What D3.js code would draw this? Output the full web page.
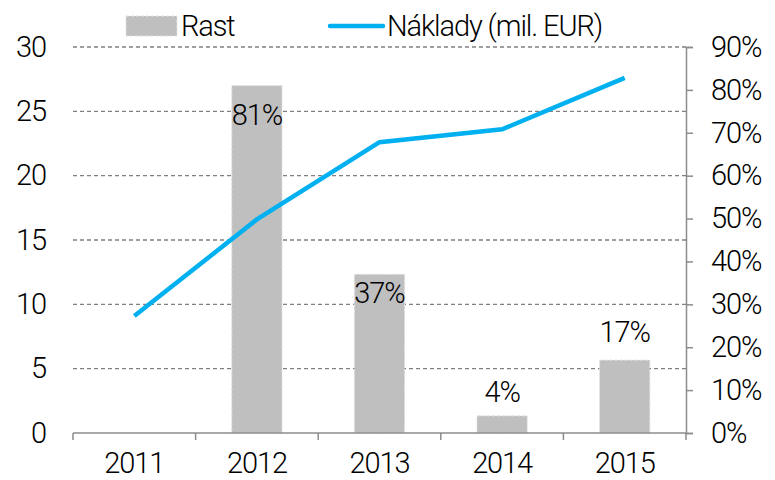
<!DOCTYPE html>
<html>
<head>
<meta charset="utf-8">
<script src="https://cdn.jsdelivr.net/npm/d3@7"></script>
<style>
    body { margin: 0; background: #fff; }
    text { font-family: Roboto, "Liberation Sans", sans-serif; font-weight: 300; letter-spacing: -1.1px; fill: #000; }
</style>
</head>
<body>
<div id="chart"></div>
<script>
// data
let years = ["2011", "2012", "2013", "2014", "2015"];
let naklady = [9.1, 16.6, 22.6, 23.6, 27.6];      // mil. EUR, left axis
let rast = [null, 0.81, 0.37, 0.04, 0.17];         // growth, right axis
let leftTicks = [0, 5, 10, 15, 20, 25, 30];
let rightTicks = [0, 0.1, 0.2, 0.3, 0.4, 0.5, 0.6, 0.7, 0.8, 0.9];
let labelShift = [0, 29, 19, -24, -28];

let fontSize = "29px";

drawChart();

function drawChart() {
    let width = 775, height = 480;
    let margin = {top: 47, right: 89, bottom: 47, left: 73};
    let w = width - margin.left - margin.right;
    let h = height - margin.top - margin.bottom;

    let svg = d3.select("#chart").append("svg")
        .attr("width", width)
        .attr("height", height);

    let g = svg.append("g")
        .attr("transform", "translate(" + margin.left + "," + margin.top + ")");

    let x = d3.scaleBand().domain(years).range([0, w]).paddingInner(0.59).paddingOuter(0.295);
    let x0 = d3.scaleBand().domain(years).range([0, w]);
    let yL = d3.scaleLinear().domain([0, 30]).range([h, 0]);
    let yR = d3.scaleLinear().domain([0, 0.9]).range([h, 0]);

    // grid lines
    g.selectAll(".grid")
        .data(leftTicks.filter(d => d > 0))
        .enter().append("line")
        .attr("x1", 0).attr("x2", w)
        .attr("y1", d => yL(d)).attr("y2", d => yL(d))
        .attr("stroke", "#808080")
        .attr("stroke-width", 1.4)
        .attr("stroke-dasharray", "4,3");

    // bars
    g.selectAll(".bar")
        .data(years.map((d, i) => ({year: d, v: rast[i], i: i})).filter(d => d.v !== null))
        .enter().append("rect")
        .attr("x", d => x(d.year))
        .attr("width", x.bandwidth())
        .attr("y", d => yR(d.v))
        .attr("height", d => h - yR(d.v))
        .attr("fill", "#bfbfbf")
        .attr("stroke", "#e3e3e3")
        .attr("stroke-dasharray", "3,2");

    // left axis labels
    let left = g.append("g").call(d3.axisLeft(yL).tickValues(leftTicks).tickSize(0).tickPadding(27));
    left.select(".domain").remove();
    left.selectAll("text").style("font-size", fontSize);

    // right axis
    let right = g.append("g")
        .attr("transform", "translate(" + w + ",0)")
        .call(d3.axisRight(yR).tickValues(rightTicks).tickSize(7).tickPadding(18).tickFormat(d3.format(".0%")));
    right.select(".domain").attr("stroke", "#8c8c8c").attr("stroke-width", 1.5);
    right.selectAll("line").attr("stroke", "#8c8c8c").attr("stroke-width", 1.5);
    right.selectAll("text").style("font-size", fontSize);

    // bottom axis
    let bottom = g.append("g")
        .attr("transform", "translate(0," + h + ")")
        .call(d3.axisBottom(x0).tickSize(0).tickPadding(19));
    bottom.select(".domain").attr("stroke", "#8c8c8c").attr("stroke-width", 1.5)
        .attr("d", "M0,0H" + w);
    bottom.selectAll("text").style("font-size", fontSize);
    bottom.selectAll(".sep")
        .data(d3.range(years.length + 1))
        .enter().append("line")
        .attr("x1", i => i * x0.step()).attr("x2", i => i * x0.step())
        .attr("y1", 0).attr("y2", 7)
        .attr("stroke", "#8c8c8c")
        .attr("stroke-width", 1.5);

    // line
    let line = d3.line()
        .x((d, i) => x0(years[i]) + x0.bandwidth() / 2)
        .y(d => yL(d));
    g.append("path")
        .datum(naklady)
        .attr("d", line)
        .attr("fill", "none")
        .attr("stroke", "#00b0f0")
        .attr("stroke-width", 4.5);

    // bar labels
    g.selectAll(".lab")
        .data(years.map((d, i) => ({year: d, v: rast[i], i: i})).filter(d => d.v !== null))
        .enter().append("text")
        .attr("x", d => x0(d.year) + x0.bandwidth() / 2)
        .attr("y", d => yR(d.v) + labelShift[d.i])
        .attr("dy", "0.35em")
        .attr("text-anchor", "middle")
        .style("font-size", fontSize)
        .text(d => d3.format(".0%")(d.v));

    // legend
    let leg = svg.append("g").attr("transform", "translate(0,26)");
    leg.append("rect")
        .attr("x", 126).attr("y", -10).attr("width", 51).attr("height", 20)
        .attr("fill", "#bfbfbf").attr("stroke", "#e3e3e3").attr("stroke-dasharray", "3,2");
    leg.append("text").attr("x", 181).attr("dy", "0.35em").style("font-size", fontSize).text("Rast");
    leg.append("line")
        .attr("x1", 330).attr("x2", 383).attr("y1", 0).attr("y2", 0)
        .attr("stroke", "#00b0f0").attr("stroke-width", 4.5).attr("stroke-linecap", "round");
    leg.append("text").attr("x", 387).attr("dy", "0.35em").style("font-size", fontSize).text("Náklady (mil. EUR)");
}
</script>
</body>
</html>
